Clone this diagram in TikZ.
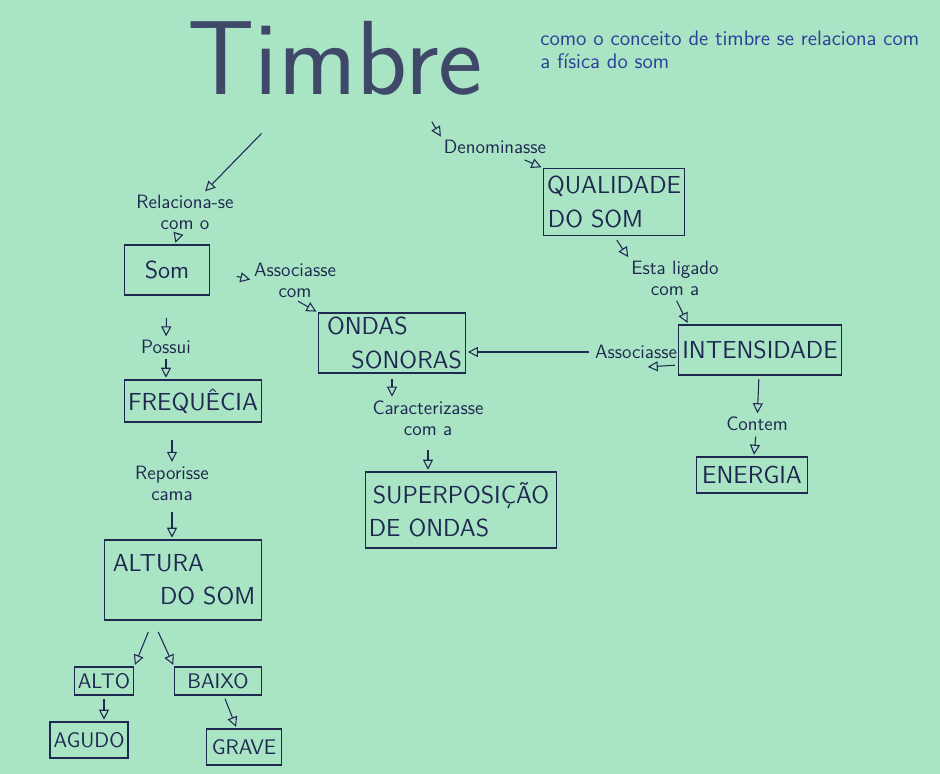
\documentclass[tikz,border=0pt]{standalone}
\usepackage{fontspec}
\usepackage{xcolor}
\usepackage{tikz}
\usetikzlibrary{arrows.meta, positioning, calc}

\definecolor{paper}{HTML}{A9E5C4}
\definecolor{ink}{HTML}{1E2850}
\definecolor{pen}{HTML}{2E3F9A}

\begin{document}
\begin{tikzpicture}[
    x=0.02cm, y=-0.02cm,
    every node/.style={color=ink, font=\sffamily},
    concept/.style={draw=ink, semithick, rectangle, align=center, inner sep=2pt,
                    font=\sffamily\fontsize{14}{19}\selectfont},
    small concept/.style={concept, font=\sffamily\fontsize{12}{14}\selectfont},
    link/.style={font=\sffamily\fontsize{11}{12}\selectfont, align=center, inner sep=1pt},
    note/.style={font=\sffamily\fontsize{12}{13}\selectfont, color=pen, align=left, inner sep=0pt},
    arr/.style={-{Triangle[open, length=2mm, width=2mm]}, color=ink, semithick,
                shorten <=2pt, shorten >=1pt}
]

% --- paper ---
\fill[paper] (0,0) rectangle (940,774);
\useasboundingbox (0,0) rectangle (940,774);

% --- title and question ---
\node[font=\sffamily\fontsize{60}{60}\selectfont, color=ink!85] (timbre) at (335,58) {Timbre};
\node[note, anchor=north west] (quest) at (540,31)
    {como o conceito de timbre se relaciona com\\a física do som};

% --- left branch ---
\node[link] (rel) at (185,212) {Relaciona-se\\com o};
\node[concept, minimum width=1.7cm, minimum height=1cm] (som) at (167,270) {Som};
\node[link] (possui) at (166,347) {Possui};
\node[concept, minimum width=2.74cm, minimum height=0.84cm] (freq) at (193,401) {FREQUÊCIA};
\node[link] (repor) at (172,483) {Reporisse\\cama};
\node[concept, minimum width=3.14cm, minimum height=1.6cm] (altura) at (183,580) {ALTURA\hspace*{2em}\\\hspace*{2em}DO SOM};
\node[small concept, minimum width=1.04cm, minimum height=0.56cm] (alto) at (104,681) {ALTO};
\node[small concept, minimum width=1.74cm, minimum height=0.56cm] (baixo) at (218,681) {BAIXO};
\node[small concept, minimum width=1.5cm, minimum height=0.72cm] (agudo) at (89,740) {AGUDO};
\node[small concept, minimum width=1.5cm, minimum height=0.72cm] (grave) at (244,747) {GRAVE};

% --- middle branch ---
\node[link] (assoc1) at (295,280) {Associasse\\com};
\node[concept, minimum width=2.5cm, minimum height=1.2cm] (ondas) at (392,343) {ONDAS\hspace*{2em}\\\hspace*{1.2em}SONORAS};
\node[link] (carac) at (428,418) {Caracterizasse\\com a};
\node[concept, minimum width=3.56cm, minimum height=1.52cm] (superp) at (461,510) {SUPERPOSIÇÃO\\DE ONDAS\hspace*{2.6em}};

% --- right branch ---
\node[link] (denom) at (495,147) {Denominasse};
\node[concept, minimum width=2.64cm, minimum height=1.34cm] (qual) at (614,202) {QUALIDADE\\DO SOM\hspace*{1.5em}};
\node[link] (esta) at (675,278) {Esta ligado\\com a};
\node[concept, minimum width=3.2cm, minimum height=1cm] (inten) at (760,350) {INTENSIDADE};
\node[link] (assoc2) at (636,352) {Associasse};
\node[link] (contem) at (757,424) {Contem};
\node[concept, minimum width=2.22cm, minimum height=0.72cm] (energia) at (752,475) {ENERGIA};

% --- connectors ---
\draw[arr, shorten <=0.9cm] (timbre) -- (rel);
\draw[arr] ([xshift=1.9cm, yshift=-0.35cm]timbre.south) -- (denom.north west);
\draw[arr] (rel) -- (som);
\draw[arr, shorten <=0.55cm] (som.east) -- (assoc1.west);
\draw[arr] (assoc1.south) -- (ondas.north west);
\draw[arr, shorten <=0.45cm] (som) -- (possui);
\draw[arr] (possui) -- (possui |- freq.north);
\draw[arr, shorten <=0.35cm] (freq.south -| repor) -- (repor);
\draw[arr, shorten <=0.2cm] (repor) -- (repor |- altura.north);
\draw[arr, shorten <=0.25cm] ([xshift=-0.6cm]altura.south) -- (alto.north east);
\draw[arr, shorten <=0.25cm] ([xshift=-0.6cm]altura.south) -- (baixo.north west);
\draw[arr] (alto) -- (alto |- agudo.north);
\draw[arr] (baixo) -- (grave);

\draw[arr, shorten <=0.1cm] (ondas.south) -- (ondas.south |- carac.north);
\draw[arr, shorten <=0.25cm] (carac.south) -- (carac.south |- superp.north);

\draw[arr, shorten <=0.2cm] (denom) -- (qual.north west);
\draw[arr, shorten <=0.1cm] (qual.south) -- (esta.north west);
\draw[arr] (esta.south) -- ([xshift=0.2cm]inten.north west);
\draw[arr] ([yshift=-0.3cm]inten.west) -- ([yshift=-0.3cm, xshift=0.2cm]assoc2.center);
\draw[arr] (assoc2.west) -- (ondas.east |- assoc2.west);
\draw[arr] (inten) -- (contem);
\draw[arr] (contem) -- (energia);

\end{tikzpicture}
\end{document}
